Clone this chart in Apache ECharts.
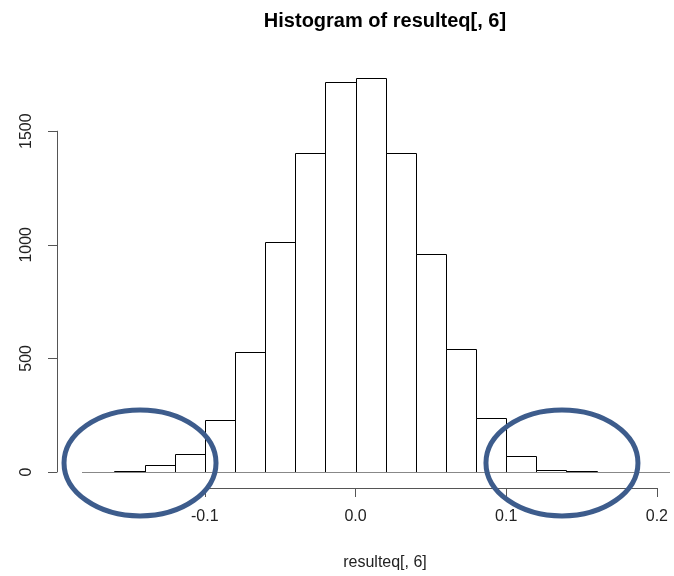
<!DOCTYPE html>
<html>
<head>
<meta charset="utf-8">
<script src="https://cdn.jsdelivr.net/npm/echarts@6/dist/echarts.min.js"></script>
<style>
  html, body { margin: 0; padding: 0; background: #fff; }
  #chart { width: 674px; height: 576px; }
</style>
</head>
<body>
<div id="chart"></div>
<script>
// Histogram bin edges and counts
const breaks = [-0.16, -0.14, -0.12, -0.10, -0.08, -0.06, -0.04, -0.02, 0.00,
                0.02, 0.04, 0.06, 0.08, 0.10, 0.12, 0.14, 0.16];
const counts = [4, 29, 79, 230, 529, 1012, 1405, 1718, 1733, 1405, 961, 543, 236, 72, 10, 3];

// Axis ticks
const xTicks = [-0.1, 0.0, 0.1, 0.2];
const yTicks = [0, 500, 1000, 1500];

// Highlighted tail regions (centre in data units)
const tailMarks = [
  { x: -0.143, y: 40 },
  { x: 0.137, y: 40 }
];

const titleText = 'Histogram of resulteq[, 6]';
const xName = 'resulteq[, 6]';

const bins = counts.map((c, i) => [breaks[i], breaks[i + 1], c]);

const FONT = 'Liberation Sans, Arial, sans-serif';
const chart = echarts.init(document.getElementById('chart'), null, { renderer: 'canvas' });

const option = {
  animation: false,
  backgroundColor: '#fff',
  title: {
    text: titleText,
    left: 385,
    top: 11,
    padding: 0,
    textAlign: 'center',
    textStyle: { fontFamily: FONT, fontSize: 20, fontWeight: 'bold', color: '#000' }
  },
  grid: [
    // plotting region for the bars
    { left: 82, width: 588, top: 63, height: 409 },
    // x axis drawn below the bars
    { left: 204.8, width: 452.1, top: 487, height: 1 },
    // y axis drawn on the left
    { left: 57, width: 1, top: 131.2, height: 340.8 }
  ],
  xAxis: [
    { gridIndex: 0, type: 'value', min: -0.1815, max: 0.2087, show: false },
    {
      gridIndex: 1, type: 'value', min: xTicks[0], max: xTicks[xTicks.length - 1], interval: 0.1,
      axisLine: { show: true, lineStyle: { color: '#555', width: 1 } },
      axisTick: { show: true, length: 9, lineStyle: { color: '#555' } },
      splitLine: { show: false },
      axisLabel: {
        margin: 21, color: '#222', fontFamily: FONT, fontSize: 16,
        formatter: v => v.toFixed(1)
      }
    },
    { gridIndex: 2, type: 'value', show: false }
  ],
  yAxis: [
    { gridIndex: 0, type: 'value', min: 0, max: 1800, show: false },
    { gridIndex: 1, type: 'value', show: false },
    {
      gridIndex: 2, type: 'value', min: yTicks[0], max: yTicks[yTicks.length - 1], interval: 500,
      axisLine: { show: true, lineStyle: { color: '#555', width: 1 } },
      axisTick: { show: true, length: 9, lineStyle: { color: '#555' } },
      splitLine: { show: false },
      axisLabel: {
        rotate: 90, margin: 22, color: '#222', fontFamily: FONT, fontSize: 16,
        formatter: v => String(v)
      }
    }
  ],
  series: [
    {
      type: 'custom',
      xAxisIndex: 0,
      yAxisIndex: 0,
      data: bins,
      encode: { x: [0, 1], y: 2 },
      renderItem: function (params, api) {
        const p0 = api.coord([api.value(0), 0]);
        const p1 = api.coord([api.value(1), api.value(2)]);
        const x0 = Math.round(p0[0]);
        const x1 = Math.round(p1[0]);
        const yb = Math.round(p0[1]);
        const yt = Math.round(p1[1]);
        return {
          type: 'rect',
          shape: { x: x0 + 0.5, y: yt + 0.5, width: x1 - x0, height: yb - yt },
          style: { fill: '#fff', stroke: '#000', lineWidth: 1 }
        };
      },
      markLine: {
        silent: true,
        symbol: 'none',
        label: { show: false },
        lineStyle: { color: '#888', type: 'solid', width: 1 },
        data: [{ yAxis: 0 }]
      }
    }
  ]
};

chart.setOption(option);

// Outline the two tails and place the axis title
const graphics = tailMarks.map(m => {
  const c = chart.convertToPixel({ gridIndex: 0 }, [m.x, m.y]);
  return {
    type: 'ellipse',
    shape: { cx: c[0], cy: c[1], rx: 76, ry: 53 },
    style: { fill: 'none', stroke: '#3d5c8c', lineWidth: 5 },
    z: 100
  };
});
graphics.push({
  type: 'text',
  x: 385,
  y: 563,
  style: {
    text: xName, fill: '#222', font: '16px ' + FONT,
    textAlign: 'center', textVerticalAlign: 'middle'
  }
});
chart.setOption({ graphic: graphics });
</script>
</body>
</html>
